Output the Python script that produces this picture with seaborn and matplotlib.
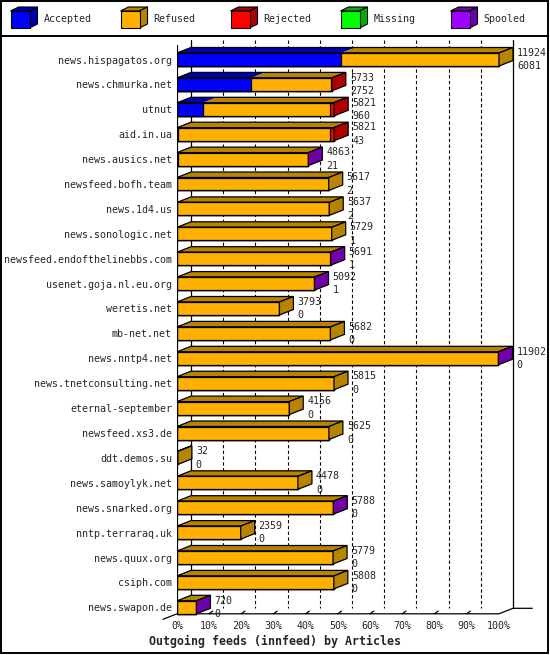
import numpy as np
import pandas as pd
import matplotlib
matplotlib.use('Agg')
import matplotlib.pyplot as plt
from matplotlib.patches import Polygon, Rectangle
import seaborn as sns

sns.set_style('white')
plt.rcParams['font.family'] = ['DejaVu Sans Mono']

feeds = ['news.hispagatos.org', 'news.chmurka.net', 'utnut', 'aid.in.ua',
         'news.ausics.net', 'newsfeed.bofh.team', 'news.1d4.us',
         'news.sonologic.net', 'newsfeed.endofthelinebbs.com',
         'usenet.goja.nl.eu.org', 'weretis.net', 'mb-net.net', 'news.nntp4.net',
         'news.tnetconsulting.net', 'eternal-september', 'newsfeed.xs3.de',
         'ddt.demos.su', 'news.samoylyk.net', 'news.snarked.org',
         'nntp.terraraq.uk', 'news.quux.org', 'csiph.com', 'news.swapon.de']
total    = [11924, 5733, 5821, 5821, 4863, 5617, 5637, 5729, 5691, 5092, 3793, 5682,
            11902, 5815, 4156, 5625, 32, 4478, 5788, 2359, 5779, 5808, 720]
accepted = [6081, 2752, 960, 43, 21, 2, 2, 1, 1, 1, 0, 0,
            0, 0, 0, 0, 0, 0, 0, 0, 0, 0, 0]
refused  = [5843, 2966, 4711, 5638, 4830, 5615, 5635, 5728, 5680, 5080, 3793, 5682,
            11890, 5815, 4156, 5625, 32, 4478, 5778, 2359, 5779, 5808, 712]
rejected = [0, 15, 150, 140, 0, 0, 0, 0, 0, 0, 0, 0,
            0, 0, 0, 0, 0, 0, 0, 0, 0, 0, 0]
missing  = [0] * 23
spooled  = [0, 0, 0, 0, 12, 0, 0, 0, 10, 11, 0, 0,
            12, 0, 0, 0, 0, 0, 10, 0, 0, 0, 8]

series = ['Accepted', 'Refused', 'Rejected', 'Missing', 'Spooled']
front = ['#0000ff', '#ffb000', '#ff0000', '#00ff00', '#a000ff']
dark = ['#0000b0', '#b88400', '#b00000', '#00b000', '#7000a8']

W, H = 550, 655
fig = plt.figure(figsize=(W / 100, H / 100), dpi=100)
fig.patch.set_facecolor('white')

# overlay in pixel units for frame + legend
bg = fig.add_axes([0, 0, 1, 1], zorder=0)
bg.set_xlim(0, W)
bg.set_ylim(H, 0)
bg.axis('off')
bg.add_patch(Rectangle((1, 1), W - 3, H - 3, fill=False, ec='black', lw=1.4))
bg.plot([1, W - 2], [36, 36], color='black', lw=1.4)
for k, (name, fc, dc) in enumerate(zip(series, front, dark)):
    x0 = 10.5 + k * 110
    bg.add_patch(Polygon([(x0, 11), (x0 + 19, 11), (x0 + 27, 7), (x0 + 8, 7)], fc=dc, ec='black', lw=0.8))
    bg.add_patch(Polygon([(x0 + 19, 11), (x0 + 27, 7), (x0 + 27, 24), (x0 + 19, 28)], fc=dc, ec='black', lw=0.8))
    bg.add_patch(Rectangle((x0, 11), 19, 17, fc=fc, ec='black', lw=0.8))
    bg.text(x0 + 33, 19.5, name, fontsize=7.2, va='center', ha='left')

# main plot axes: 0% at 177px, 100% at 499px
left, right, top, bottom = 177, 540, 40, 620
scale = 322.0
row = 24.9
c0 = 59.5
ax = fig.add_axes([left / W, 1 - bottom / H, (right - left) / W, (bottom - top) / H], zorder=1)
ax.patch.set_alpha(0)

vmax = max(total)
df = pd.DataFrame({'feed': feeds, 'Accepted': accepted, 'Refused': refused,
                   'Rejected': rejected, 'Missing': missing, 'Spooled': spooled})
frac = df[series].div(vmax)
cum = frac.cumsum(axis=1)

h = 13 / row          # bar thickness
dz = 5.5 / row        # depth (vertical)
dx = 14 / scale       # depth (horizontal)

# back wall + floor
n = len(feeds)
ytop = (top - c0) / row
floor_f = (n - 1) + h / 2
floor_b = floor_f - dz
ax.plot([dx, dx], [ytop, floor_b], color='black', lw=0.9, zorder=0)
ax.plot([1 + dx, 1 + dx], [ytop, floor_b], color='black', lw=0.9, zorder=0)
for k in range(1, 10):
    ax.plot([k / 10 + dx] * 2, [ytop, floor_b], color='black', lw=0.8,
            ls=(0, (3, 2.2)), zorder=0)
ax.plot([0, 0], [(45 - c0) / row, floor_f], color='black', lw=0.9, zorder=0)
ax.plot([-dx, 0, 1, 1 + dx, 1 + dx + 0.06], [floor_f + dz, floor_f, floor_f, floor_b, floor_b],
        color='black', lw=0.9, clip_on=False, zorder=0)
for k in range(1, 10):
    ax.plot([k / 10, k / 10 + dx * 0.25], [floor_f, floor_f - dz * 0.5],
            color='black', lw=0.9, zorder=0)

# front faces, stacked by overdrawing cumulative sums
for j in range(len(series) - 1, -1, -1):
    sns.barplot(x=cum[series[j]].values, y=df['feed'], orient='h', color=front[j],
                saturation=1, width=h, edgecolor='black', linewidth=0.9, ax=ax, zorder=3)

# top and side faces
for i in range(n):
    yt, yb = i - h / 2, i + h / 2
    start = 0.0
    last = None
    for j, s in enumerate(series):
        v = frac.loc[i, s]
        if v <= 0:
            continue
        a, b = start, start + v
        ax.add_patch(Polygon([(a, yt), (b, yt), (b + dx, yt - dz), (a + dx, yt - dz)],
                             fc=dark[j], ec='none', zorder=2, clip_on=False))
        start = b
        last = j
    end = start
    ax.add_patch(Polygon([(0, yt), (end, yt), (end + dx, yt - dz), (dx, yt - dz)],
                         fill=False, ec='black', lw=0.9, zorder=4, clip_on=False))
    ax.add_patch(Polygon([(end, yt), (end + dx, yt - dz), (end + dx, yb - dz), (end, yb)],
                         fc=dark[last], ec='black', lw=0.9, zorder=4, clip_on=False))
    tx = end + dx + 4 / scale
    ax.text(tx, i - 0.27, str(total[i]), fontsize=7.2, va='center', ha='left', zorder=5)
    ax.text(tx, i + 0.27, str(accepted[i]), fontsize=7.2, va='center', ha='left', zorder=5)

ax.set_xlim(0, (right - left) / scale)
ax.set_ylim((bottom - c0) / row, ytop)
ax.set_xticks(np.arange(0, 11) / 10)
ax.set_xticklabels([f'{k * 10}%' for k in range(11)])
ax.set_xlabel('')
ax.set_ylabel('')
ax.tick_params(axis='both', length=0, labelsize=7.2)
ax.tick_params(axis='y', pad=3.6)
ax.tick_params(axis='x', pad=1)
for sp in ax.spines.values():
    sp.set_visible(False)

fig.text(0.5, 1 - 641 / H, 'Outgoing feeds (innfeed) by Articles', fontsize=8.4,
         fontweight='bold', ha='center', va='center')

fig.savefig('out.png', dpi=100)
